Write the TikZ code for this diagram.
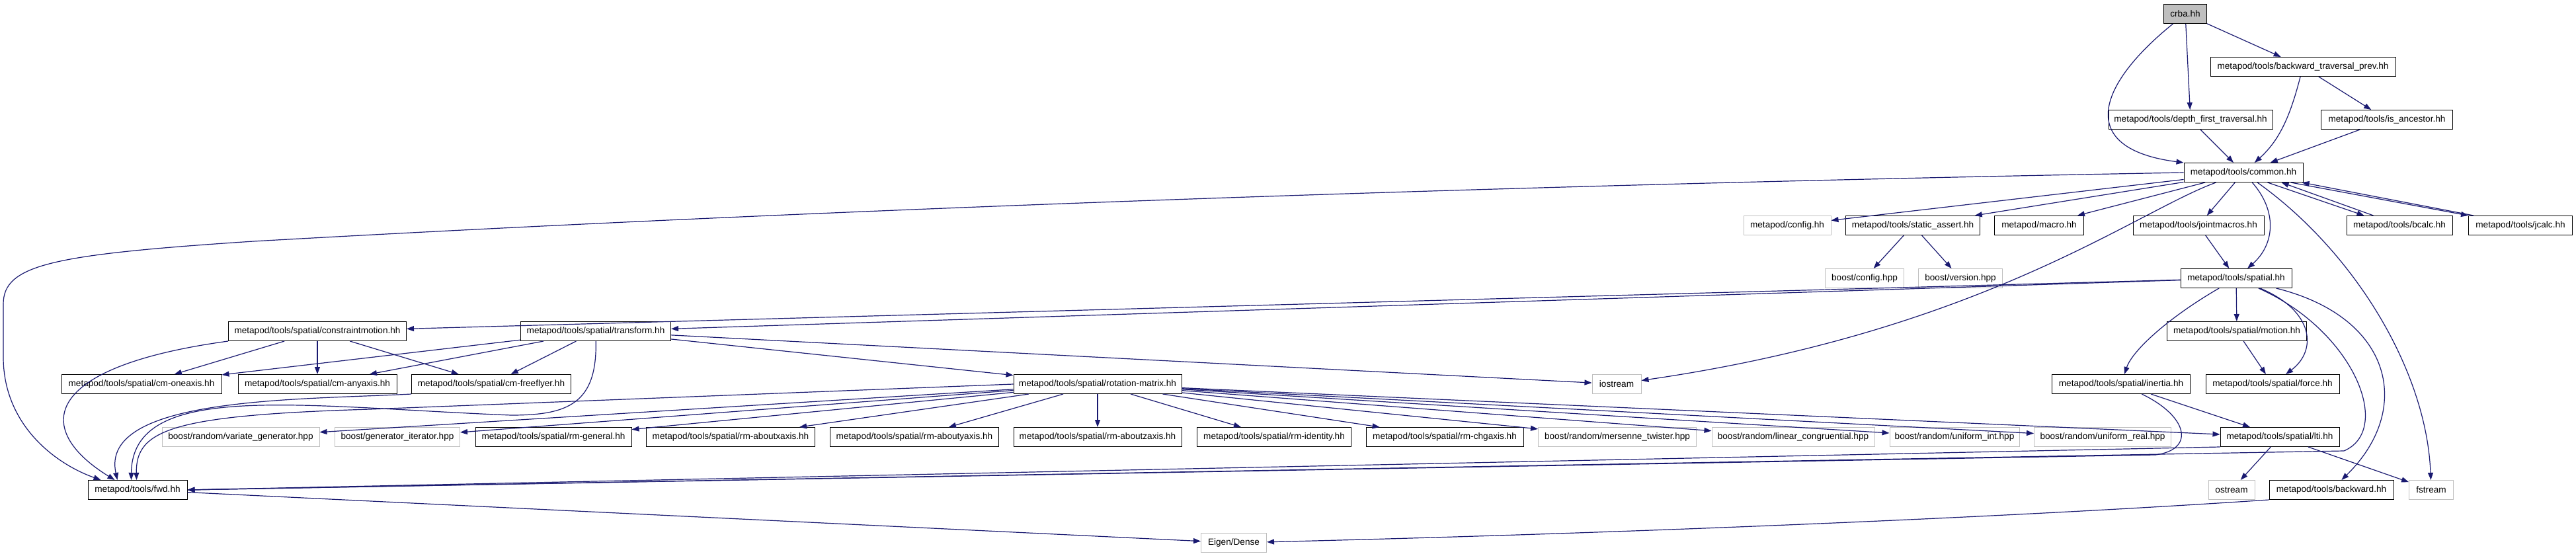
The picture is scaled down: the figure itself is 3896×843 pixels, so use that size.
\documentclass[tikz,border=0pt]{standalone}
\usepackage{fontspec}
\setmainfont{Liberation Sans}
\usetikzlibrary{arrows.meta}
\definecolor{edgeblue}{HTML}{191970}
\definecolor{extgray}{HTML}{BFBFBF}
\tikzset{
  filebox/.style={draw=black, line width=1pt, fill=white, minimum height=29pt, inner sep=0pt, font=\fontsize{13.6}{16}\selectfont},
  sysbox/.style={filebox, draw=extgray},
  rootbox/.style={filebox, fill=extgray},
  incl/.style={draw=edgeblue, line width=1.2pt, -{Triangle[length=11pt, width=8pt]}}
}
\begin{document}
\begin{tikzpicture}[x=1pt, y=-1pt]
  \useasboundingbox (0,0) rectangle (3896,843);
  \node[rootbox, minimum width=65pt] (crba) at (3305,21) {crba.hh};
  \node[filebox, minimum width=280pt] (btp) at (3483,101) {metapod/tools/backward\_traversal\_prev.hh};
  \node[filebox, minimum width=248pt] (dft) at (3313,181) {metapod/tools/depth\_first\_traversal.hh};
  \node[filebox, minimum width=199pt] (isanc) at (3610,181) {metapod/tools/is\_ancestor.hh};
  \node[filebox, minimum width=180pt] (common) at (3393,261) {metapod/tools/common.hh};
  \node[sysbox, minimum width=132pt] (config) at (2703,341) {metapod/config.hh};
  \node[filebox, minimum width=203pt] (sassert) at (2893,341) {metapod/tools/static\_assert.hh};
  \node[filebox, minimum width=135pt] (macro) at (3084,341) {metapod/macro.hh};
  \node[filebox, minimum width=198pt] (jmacros) at (3325,341) {metapod/tools/jointmacros.hh};
  \node[filebox, minimum width=160pt] (bcalc) at (3629,341) {metapod/tools/bcalc.hh};
  \node[filebox, minimum width=157pt] (jcalc) at (3812,341) {metapod/tools/jcalc.hh};
  \node[sysbox, minimum width=119pt] (bconfig) at (2820,421) {boost/config.hpp};
  \node[sysbox, minimum width=127pt] (bversion) at (2965,421) {boost/version.hpp};
  \node[filebox, minimum width=168pt] (spatial) at (3382,421) {metapod/tools/spatial.hh};
  \node[filebox, minimum width=269pt] (cmotion) at (480,501) {metapod/tools/spatial/constraintmotion.hh};
  \node[filebox, minimum width=227pt] (transform) at (901,501) {metapod/tools/spatial/transform.hh};
  \node[filebox, minimum width=211pt] (motion) at (3383,501) {metapod/tools/spatial/motion.hh};
  \node[filebox, minimum width=242pt] (cmone) at (214,581) {metapod/tools/spatial/cm-oneaxis.hh};
  \node[filebox, minimum width=240pt] (cmany) at (480,581) {metapod/tools/spatial/cm-anyaxis.hh};
  \node[filebox, minimum width=241pt] (cmfree) at (743,581) {metapod/tools/spatial/cm-freeflyer.hh};
  \node[filebox, minimum width=254pt] (rotmat) at (1660,581) {metapod/tools/spatial/rotation-matrix.hh};
  \node[sysbox, minimum width=74pt] (iostream) at (2445,581) {iostream};
  \node[filebox, minimum width=209pt] (inertia) at (3208,581) {metapod/tools/spatial/inertia.hh};
  \node[filebox, minimum width=202pt] (force) at (3437,581) {metapod/tools/spatial/force.hh};
  \node[sysbox, minimum width=238pt] (vargen) at (364,661) {boost/random/variate\_generator.hpp};
  \node[sysbox, minimum width=189pt] (geniter) at (601,661) {boost/generator\_iterator.hpp};
  \node[filebox, minimum width=236pt] (rmgen) at (837,661) {metapod/tools/spatial/rm-general.hh};
  \node[filebox, minimum width=255pt] (rmx) at (1105,661) {metapod/tools/spatial/rm-aboutxaxis.hh};
  \node[filebox, minimum width=255pt] (rmy) at (1383,661) {metapod/tools/spatial/rm-aboutyaxis.hh};
  \node[filebox, minimum width=254pt] (rmz) at (1660,661) {metapod/tools/spatial/rm-aboutzaxis.hh};
  \node[filebox, minimum width=233pt] (rmid) at (1927,661) {metapod/tools/spatial/rm-identity.hh};
  \node[filebox, minimum width=238pt] (rmchg) at (2185,661) {metapod/tools/spatial/rm-chgaxis.hh};
  \node[sysbox, minimum width=239pt] (mersenne) at (2446,661) {boost/random/mersenne\_twister.hpp};
  \node[sysbox, minimum width=246pt] (lincong) at (2712,661) {boost/random/linear\_congruential.hpp};
  \node[sysbox, minimum width=196pt] (uint) at (2956,661) {boost/random/uniform\_int.hpp};
  \node[sysbox, minimum width=207pt] (ureal) at (3180,661) {boost/random/uniform\_real.hpp};
  \node[filebox, minimum width=180pt] (lti) at (3448,661) {metapod/tools/spatial/lti.hh};
  \node[filebox, minimum width=150pt] (fwd) at (208,741) {metapod/tools/fwd.hh};
  \node[sysbox, minimum width=70pt] (ostream) at (3375,741) {ostream};
  \node[filebox, minimum width=188pt] (backward) at (3526,741) {metapod/tools/backward.hh};
  \node[sysbox, minimum width=67pt] (fstream) at (3677,741) {fstream};
  \node[sysbox, minimum width=99pt] (eigen) at (1866,821) {Eigen/Dense};

  \draw[incl] (crba) .. controls (3170,130) and (3140,225) .. (common.north west);
  \draw[incl] (crba) -- (dft);
  \draw[incl] (crba) -- (btp);
  \draw[incl] (btp) .. controls (3465,170) and (3450,210) .. (common);
  \draw[incl] (btp) -- (isanc);
  \draw[incl] (dft) -- (common);
  \draw[incl] (isanc) -- (common);

  \draw[incl] (common.west) .. controls (2000,285) and (1000,330) .. (383,365) .. controls (80,385) and (5,400) .. (5,460) -- (5,540) .. controls (5,640) and (80,700) .. ([xshift=20pt]fwd.north west);
  \draw[incl] (common) -- (config);
  \draw[incl] (common) -- (sassert);
  \draw[incl] (common) -- (macro);
  \draw[incl] (common) -- (jmacros);
  \draw[incl] (common) .. controls (3445,320) and (3440,370) .. (spatial);
  \draw[incl] (common) .. controls (3230,320) and (3000,500) .. (iostream);
  \draw[incl] (common) .. controls (3560,380) and (3670,560) .. (fstream);
  \draw[incl] ([xshift=-54pt]common.south east) -- ([xshift=27pt]bcalc.north west);
  \draw[incl] ([xshift=41pt]bcalc.north west) -- ([xshift=-33pt]common.south east);
  \draw[incl] ([xshift=-19pt]common.south east) -- (jcalc.north west);
  \draw[incl] ([xshift=8pt]jcalc.north west) -- ([xshift=-2pt]common.south east);

  \draw[incl] (sassert) -- (bconfig);
  \draw[incl] (sassert) -- (bversion);
  \draw[incl] (jmacros) -- (spatial);

  \draw[incl] (spatial) -- (cmotion);
  \draw[incl] (spatial) -- (transform);
  \draw[incl] (spatial) -- (motion);
  \draw[incl] (spatial) .. controls (3500,470) and (3505,530) .. (force);
  \draw[incl] (spatial) .. controls (3280,480) and (3225,530) .. (inertia);
  \draw[incl] (spatial) .. controls (3620,480) and (3650,620) .. (backward);
  \draw[incl] (spatial) .. controls (3560,500) and (3620,650) .. (3545,682) -- (fwd.east);
  \draw[incl] (motion) -- (force);
  \draw[incl] (inertia) -- (lti);
  \draw[incl] (inertia) .. controls (3310,630) and (3320,680) .. (3260,688) -- (fwd.east);
  \draw[incl] (lti.south west) -- (fwd.east);
  \draw[incl] (lti) -- (ostream);
  \draw[incl] (lti) -- (fstream);
  \draw[incl] (backward.south west) .. controls (3000,785) and (2400,808) .. (eigen);
  \draw[incl] (fwd) -- (eigen);

  \draw[incl] (cmotion) -- (cmone);
  \draw[incl] (cmotion) -- (cmany);
  \draw[incl] (cmotion) -- (cmfree);
  \draw[incl] (cmotion.south west) .. controls (60,555) and (50,650) .. ([xshift=41pt]fwd.north west);
  \draw[incl] (cmfree.south west) .. controls (450,605) and (150,600) .. ([xshift=45pt]fwd.north west);

  \draw[incl] (transform) -- (cmone);
  \draw[incl] (transform) -- (cmany);
  \draw[incl] (transform) -- (cmfree);
  \draw[incl] (transform) -- (rotmat);
  \draw[incl] (transform) -- (iostream);
  \draw[incl] (transform) .. controls (903,610) and (860,628) .. (773,628) .. controls (450,615) and (200,575) .. ([xshift=66pt]fwd.north west);

  \draw[incl] (rotmat) -- (vargen);
  \draw[incl] (rotmat) -- (geniter);
  \draw[incl] (rotmat) -- (rmgen);
  \draw[incl] (rotmat) -- (rmx);
  \draw[incl] (rotmat) -- (rmy);
  \draw[incl] (rotmat) -- (rmz);
  \draw[incl] (rotmat) -- (rmid);
  \draw[incl] (rotmat) -- (rmchg);
  \draw[incl] (rotmat) -- (mersenne);
  \draw[incl] (rotmat) -- (lincong);
  \draw[incl] (rotmat) -- (uint);
  \draw[incl] (rotmat) -- (ureal);
  \draw[incl] (rotmat) -- (lti);
  \draw[incl] (rotmat.west) -- (560,619) .. controls (260,628) and (205,650) .. ([xshift=74pt]fwd.north west);
\end{tikzpicture}
\end{document}
